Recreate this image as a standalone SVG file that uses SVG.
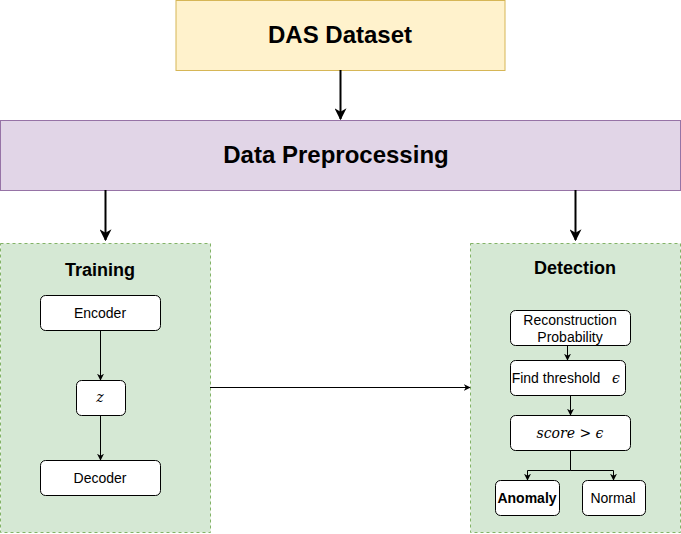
<svg xmlns="http://www.w3.org/2000/svg" width="681" height="534" viewBox="0 0 681 534">
<style>
.t{font-family:"Liberation Sans",Arial,sans-serif;fill:#000;text-anchor:middle}
.b{font-weight:bold}
.m{font-family:"DejaVu Serif","Liberation Serif",serif;font-style:italic;fill:#000;text-anchor:middle}
.n{fill:#fff;stroke:#000;stroke-width:1}
.c{fill:none;stroke:#000;stroke-width:1}
.c2{fill:none;stroke:#000;stroke-width:2}
.g{fill:#d5e8d4;stroke:#82b366;stroke-width:1;stroke-dasharray:3 3}
</style>
<defs>
<marker id="a" viewBox="0 0 10 10" refX="9" refY="5" markerWidth="7" markerHeight="7" markerUnits="userSpaceOnUse" orient="auto"><path d="M0,0 L10,5 L0,10 L3,5 Z" fill="#000"/></marker>
<marker id="a2" viewBox="0 0 10 10" refX="9" refY="5" markerWidth="12" markerHeight="12" markerUnits="userSpaceOnUse" orient="auto"><path d="M0,0 L10,5 L0,10 L3,5 Z" fill="#000"/></marker>
</defs>
<g id="das"><rect x="176" y="0.5" width="329" height="70" fill="#fff2cc" stroke="#d6b656"/><text class="t b" x="340" y="43" font-size="24">DAS Dataset</text></g>
<g id="prep"><rect x="0.5" y="120.5" width="680" height="70" fill="#e1d5e7" stroke="#9673a6"/><text class="t b" x="336" y="163" font-size="24">Data Preprocessing</text></g>
<g id="training"><rect class="g" x="0.5" y="243.5" width="210" height="289"/><text class="t b" x="100" y="276" font-size="18">Training</text></g>
<g id="detection"><rect class="g" x="470.5" y="243.5" width="210" height="289"/><text class="t b" x="575" y="274" font-size="18">Detection</text></g>
<g id="encoder"><rect class="n" x="40.5" y="295.5" width="120" height="35" rx="5"/><text class="t" x="100" y="318" font-size="14">Encoder</text></g>
<g id="z"><rect class="n" x="76.5" y="380.5" width="49" height="35" rx="5"/><text class="m" x="100" y="402" font-size="14">z</text></g>
<g id="decoder"><rect class="n" x="40.5" y="460.5" width="120" height="35" rx="5"/><text class="t" x="100" y="483" font-size="14">Decoder</text></g>
<g id="recon"><rect class="n" x="510.5" y="310.5" width="120" height="35" rx="5"/><text class="t" x="570" y="325" font-size="14">Reconstruction</text><text class="t" x="570" y="342" font-size="14">Probability</text></g>
<g id="thresh"><rect class="n" x="510.5" y="360.5" width="115" height="35" rx="5"/><text class="t" x="556" y="383" font-size="14">Find threshold</text><text class="m" x="616" y="383" font-size="14">ϵ</text></g>
<g id="score"><rect class="n" x="510.5" y="415.5" width="120" height="35" rx="5"/><text class="m" x="570" y="438" font-size="14">score &gt; ϵ</text></g>
<g id="anomaly"><rect class="n" x="495.5" y="480.5" width="64" height="35" rx="5"/><text class="t b" x="527" y="503" font-size="14">Anomaly</text></g>
<g id="normal"><rect class="n" x="582.5" y="480.5" width="63" height="35" rx="5"/><text class="t" x="613" y="503" font-size="14">Normal</text></g>
<g id="connectors">
<path class="c2" d="M340.5,70 V119" marker-end="url(#a2)"/>
<path class="c2" d="M105.5,190 V240" marker-end="url(#a2)"/>
<path class="c2" d="M575.5,190 V240" marker-end="url(#a2)"/>
<path class="c" d="M100.5,330 V380" marker-end="url(#a)"/>
<path class="c" d="M100.5,415 V460" marker-end="url(#a)"/>
<path class="c" stroke="#333" d="M210,387.5 H470" marker-end="url(#a)"/>
<path class="c" d="M567.5,345 V360" marker-end="url(#a)"/>
<path class="c" d="M570.5,395 V415" marker-end="url(#a)"/>
<path class="c" d="M570.5,450 V470.5 H527.5 V480" marker-end="url(#a)"/>
<path class="c" d="M570.5,470.5 H613.5 V480" marker-end="url(#a)"/>
</g>
</svg>
